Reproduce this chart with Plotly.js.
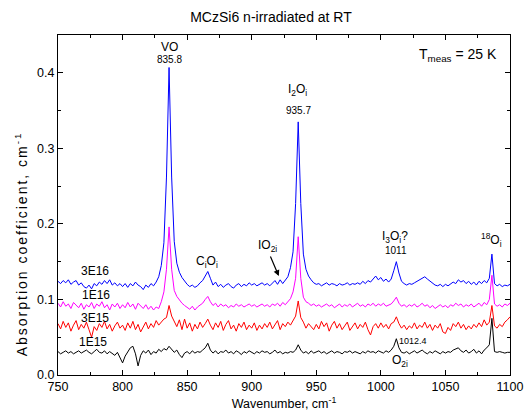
<!DOCTYPE html>
<html>
<head>
<meta charset="utf-8">
<script src="https://cdn.plot.ly/plotly-3.0.1.min.js"></script>
<style>html,body{margin:0;padding:0;background:#fff;}#chart{width:524px;height:417px;}</style>
</head>
<body>
<div id="chart"></div>
<script>
// Spectra sampled every 2 cm^-1 from 750 to 1100 cm^-1
const waveStart = 750, waveStep = 2;
// Absorption coefficient values in units of 1e-3 cm^-1
const alpha3E16 = [
124,121,125,122,126,120,123,125,119,122,117,115,119,114,121,118,123,120,125,121,126,119,122,118,121,
117,121,116,121,118,123,119,117,113,119,116,121,118,123,130,145,175,262,407,262,177,148,136,129,124,
120,117,119,116,118,122,125,131,137,128,119,123,117,120,116,119,121,117,115,119,121,117,120,118,122,
119,121,118,120,122,119,121,118,122,125,120,126,121,125,130,142,163,227,335,227,160,140,131,126,122,
120,121,118,120,122,119,121,120,118,121,119,120,122,119,121,120,122,120,124,121,125,123,127,131,126,
129,124,127,123,127,138,150,135,124,121,119,121,120,122,124,126,128,130,127,124,121,119,118,120,117,
120,118,121,123,121,126,123,125,121,124,120,123,119,124,121,125,122,128,160,121,118,120,117,119,118,
120];
const alpha1E16 = [
95,90,97,91,94,88,96,92,89,95,87,93,90,96,88,94,91,97,89,93,86,94,90,95,88,
93,89,96,90,94,87,95,91,88,93,87,91,86,90,88,97,110,140,196,140,112,104,99,95,92,
89,87,91,86,90,93,95,100,104,97,92,95,90,94,91,93,89,92,90,94,91,93,90,92,94,
91,93,90,92,94,91,93,90,94,92,95,91,96,93,97,101,110,128,183,128,103,97,95,92,94,
91,93,90,92,94,91,93,89,92,94,90,93,91,94,90,92,95,91,93,90,94,92,95,91,94,
92,95,91,93,94,98,103,95,91,93,90,93,91,94,90,92,95,91,93,89,92,88,91,93,90,
92,89,93,91,95,92,94,90,93,91,94,90,93,95,91,96,93,100,132,94,91,93,90,94,92,
95];
const alpha3E15 = [
68,61,71,63,69,58,66,72,60,67,62,70,60,50,64,59,68,63,71,61,67,58,65,70,62,
66,59,69,62,71,60,67,57,64,70,61,68,63,72,66,70,74,76,92,78,71,64,73,60,74,
62,69,58,67,61,70,63,68,74,66,60,69,63,71,59,67,72,61,66,58,68,63,70,60,66,
62,69,59,66,61,68,63,70,61,66,72,60,68,64,70,66,72,78,98,76,70,62,68,64,60,
67,61,71,64,69,58,66,71,62,68,60,66,70,59,64,69,61,67,63,70,60,53,64,68,62,
69,63,67,61,68,70,77,68,62,66,60,65,62,69,61,66,63,70,62,67,59,66,62,68,57,
55,63,59,68,64,70,62,67,60,65,61,67,63,69,64,73,66,70,92,65,62,67,64,70,73,
77];
const alpha1E15 = [
31,28,30,32,29,31,28,30,32,29,31,33,30,28,31,34,30,29,32,28,31,29,26,30,24,
16,25,30,36,38,28,12,26,32,29,33,27,31,29,34,31,35,33,38,34,30,33,27,23,29,
31,28,32,29,31,30,33,36,42,33,29,32,28,31,30,33,29,31,28,32,30,27,31,29,32,
30,28,31,29,32,30,31,28,30,33,29,31,28,30,29,31,30,33,40,33,29,31,28,32,29,
30,32,29,31,28,30,32,29,31,30,28,31,30,32,29,31,30,28,31,29,32,30,31,29,32,
31,29,32,30,33,38,48,36,30,29,31,28,30,32,29,31,33,30,28,31,29,32,30,28,31,
29,31,30,33,35,36,32,30,33,29,31,34,29,32,28,33,36,40,75,31,30,31,30,29,30,
30];
const seriesNames = ["3E16", "1E16", "3E15", "1E15"];
const seriesColors = ["#0000ff", "#ff00ff", "#ff0000", "#000000"];
const seriesData = [alpha3E16, alpha1E16, alpha3E15, alpha1E15];

const wavenumber = alpha3E16.map((_, i) => waveStart + waveStep * i);

const FONT = "Liberation Sans, Arial, sans-serif";
const traces = seriesData.map((arr, k) => ({
  type: "scatter", mode: "lines", name: seriesNames[k],
  x: wavenumber, y: arr.map(v => v / 1000),
  line: {color: seriesColors[k], width: 1}, showlegend: false, hoverinfo: "skip"
}));

function lab(text, x, y, size, extra) {
  return Object.assign({text: text, x: x, y: y, xref: "x", yref: "y", showarrow: false,
    font: {family: FONT, size: size, color: "#000"}, xanchor: "center", yanchor: "middle"}, extra || {});
}
const annotations = [
  lab("VO", 836.5, 0.4346, 12),
  lab("835.8", 836.5, 0.4174, 10),
  lab("I<sub>2</sub>O<sub>i</sub>", 935.7, 0.3776, 12),
  lab("935.7", 936.5, 0.3498, 10),
  lab("T<sub>meas</sub> = 25 K", 1028.2, 0.4230, 14, {xanchor: "left"}),
  lab("C<sub>i</sub>O<sub>i</sub>", 865.2, 0.1495, 12),
  lab("IO<sub>2i</sub>", 912.5, 0.1707, 12),
  {x: 921.0, y: 0.1309, ax: 914.0, ay: 0.1588, xref: "x", yref: "y", axref: "x", ayref: "y",
   text: "", showarrow: true, arrowhead: 2, arrowsize: 1, arrowwidth: 1.2, arrowcolor: "#000"},
  lab("I<sub>3</sub>O<sub>i</sub>?", 1010.9, 0.1826, 12),
  lab("1011", 1011.6, 0.1654, 10),
  lab("<sup>18</sup>O<sub>i</sub>", 1085.7, 0.1787, 12),
  lab("1012.4", 1025.2, 0.0454, 9),
  lab("O<sub>2i</sub>", 1014.7, 0.0182, 12),
  lab("3E16", 778.5, 0.1375, 12),
  lab("1E16", 779.2, 0.1064, 12),
  lab("3E15", 778.5, 0.0752, 12),
  lab("1E15", 776.9, 0.0434, 12),
  // y-axis title (placed like the reference, slightly below the plot centre)
  {text: "Absorption coefficient, cm<sup>-1</sup>", xref: "paper", yref: "paper",
   x: (21 - 58) / 452, y: (374.7 - 244) / 340, textangle: -90, showarrow: false,
   xanchor: "center", yanchor: "middle", font: {family: FONT, size: 14, color: "#000"}}
];

const axisCommon = {
  showgrid: false, zeroline: false, showline: true, linecolor: "#000", linewidth: 1,
  mirror: "allticks", ticks: "inside", ticklen: 5, tickwidth: 1, tickcolor: "#000",
  tickfont: {family: FONT, size: 12.5, color: "#000"}
};
const layout = {
  width: 524, height: 417,
  margin: {l: 58, r: 14, t: 35, b: 42},
  paper_bgcolor: "#fff", plot_bgcolor: "#fff",
  title: {text: "MCzSi6 n-irradiated at RT", x: 271 / 524, xref: "container", xanchor: "center",
          y: 1 - 17 / 417, yref: "container", yanchor: "middle",
          font: {family: FONT, size: 14, color: "#000"}},
  xaxis: Object.assign({}, axisCommon, {
    range: [750, 1100], tick0: 750, dtick: 50,
    minor: {dtick: 25, ticks: "inside", ticklen: 3, tickcolor: "#000"},
    title: {text: "Wavenumber, cm<sup>-1</sup>", standoff: 6, font: {family: FONT, size: 12.5, color: "#000"}}
  }),
  yaxis: Object.assign({}, axisCommon, {
    range: [0, 0.45], tick0: 0, dtick: 0.1, tickformat: ".1f",
    minor: {dtick: 0.05, ticks: "inside", ticklen: 3, tickcolor: "#000"}
  }),
  annotations: annotations
};
Plotly.newPlot("chart", traces, layout, {displayModeBar: false, staticPlot: true}).then(gd => {
  const anns = gd.querySelectorAll(".annotation-text");
  const yTitle = anns[anns.length - 1];
  if (yTitle) yTitle.style.letterSpacing = "2px";
});
</script>
</body>
</html>
